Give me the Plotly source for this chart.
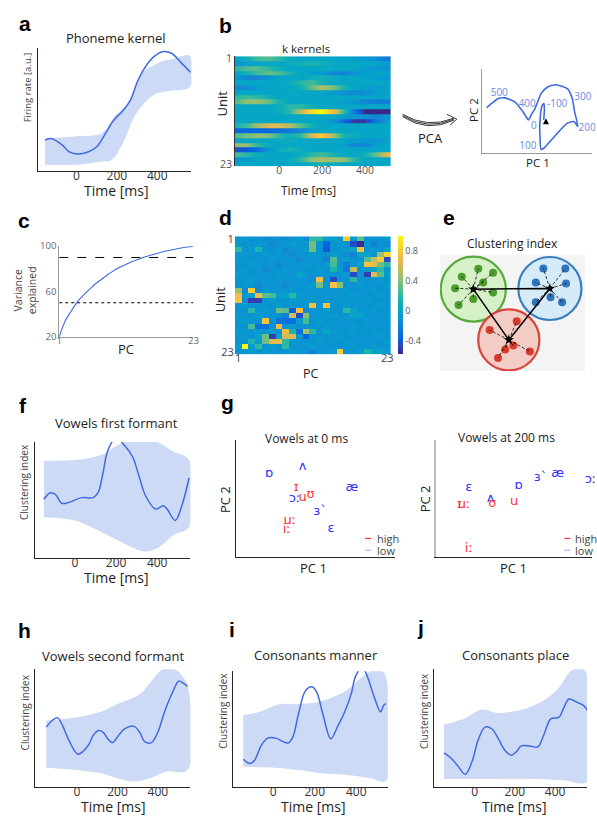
import plotly.graph_objects as go

W, H = 597, 823
BLUE = '#4169e1'
BAND = '#ccdaf5'
AXC = '#262626'

# ---------------- data ----------------
# a: phoneme kernel
a_t = [-156, -128, -70, -38, 3, 60, 100, 143, 183, 225, 265, 306, 348, 388, 430, 470, 520, 564]
a_v = [0.95, 1.00, 0.80, 0.60, 0.53, 0.60, 0.75, 1.15, 1.55, 1.82, 2.15, 2.80, 3.25, 3.52, 3.65, 3.60, 3.30, 3.02]
a_up_t = [-156, 0, 126, 192, 257, 323, 372, 421, 487, 561]
a_up_v = [1.00, 1.07, 1.17, 1.70, 2.10, 3.00, 3.20, 3.35, 3.45, 3.52]
a_lo_t = [-156, 0, 126, 175, 225, 290, 339, 389, 454, 561]
a_lo_v = [0.20, 0.20, 0.30, 0.35, 0.80, 1.70, 2.10, 2.35, 2.45, 2.58]

# b: k kernels (units x time), colour fraction
b_t = [-200, -150, -100, -50, 0, 50, 100, 150, 200, 250, 300, 350, 400, 450, 500]
b_units = list(range(1, 24))
b_z = [
    [0.45, 0.50, 0.58, 0.60, 0.55, 0.48, 0.45, 0.45, 0.45, 0.45, 0.45, 0.42, 0.40, 0.38, 0.30],
    [0.40, 0.42, 0.45, 0.45, 0.45, 0.48, 0.50, 0.52, 0.50, 0.46, 0.45, 0.45, 0.45, 0.44, 0.42],
    [0.55, 0.60, 0.60, 0.55, 0.50, 0.45, 0.45, 0.45, 0.47, 0.47, 0.45, 0.45, 0.42, 0.40, 0.38],
    [0.45, 0.50, 0.58, 0.62, 0.60, 0.52, 0.45, 0.42, 0.40, 0.35, 0.33, 0.38, 0.42, 0.45, 0.45],
    [0.40, 0.35, 0.35, 0.40, 0.45, 0.45, 0.45, 0.48, 0.50, 0.48, 0.45, 0.45, 0.45, 0.42, 0.40],
    [0.45, 0.45, 0.45, 0.45, 0.45, 0.48, 0.55, 0.58, 0.50, 0.45, 0.45, 0.45, 0.45, 0.45, 0.45],
    [0.35, 0.38, 0.42, 0.45, 0.45, 0.45, 0.50, 0.62, 0.72, 0.65, 0.52, 0.45, 0.42, 0.42, 0.42],
    [0.45, 0.45, 0.45, 0.45, 0.45, 0.45, 0.45, 0.45, 0.45, 0.42, 0.38, 0.35, 0.38, 0.42, 0.45],
    [0.55, 0.58, 0.55, 0.50, 0.45, 0.45, 0.45, 0.45, 0.45, 0.45, 0.45, 0.45, 0.45, 0.45, 0.45],
    [0.60, 0.68, 0.68, 0.62, 0.52, 0.45, 0.45, 0.45, 0.45, 0.45, 0.42, 0.40, 0.35, 0.32, 0.32],
    [0.45, 0.45, 0.45, 0.45, 0.48, 0.55, 0.55, 0.50, 0.45, 0.45, 0.45, 0.45, 0.45, 0.45, 0.45],
    [0.45, 0.45, 0.45, 0.45, 0.48, 0.55, 0.75, 0.95, 1.00, 0.85, 0.55, 0.30, 0.12, 0.05, 0.05],
    [0.45, 0.45, 0.45, 0.45, 0.45, 0.45, 0.45, 0.45, 0.45, 0.45, 0.42, 0.40, 0.38, 0.35, 0.40],
    [0.45, 0.45, 0.45, 0.45, 0.45, 0.45, 0.45, 0.45, 0.45, 0.40, 0.25, 0.15, 0.15, 0.30, 0.42],
    [0.52, 0.58, 0.72, 0.80, 0.80, 0.72, 0.60, 0.50, 0.45, 0.45, 0.45, 0.45, 0.45, 0.45, 0.45],
    [0.25, 0.25, 0.25, 0.25, 0.28, 0.30, 0.35, 0.42, 0.45, 0.45, 0.45, 0.45, 0.45, 0.45, 0.45],
    [0.60, 0.65, 0.68, 0.65, 0.55, 0.50, 0.55, 0.80, 0.90, 0.70, 0.52, 0.48, 0.45, 0.45, 0.45],
    [0.45, 0.45, 0.45, 0.45, 0.48, 0.48, 0.45, 0.45, 0.45, 0.45, 0.45, 0.42, 0.40, 0.40, 0.42],
    [0.70, 0.68, 0.55, 0.48, 0.45, 0.45, 0.45, 0.45, 0.45, 0.45, 0.42, 0.35, 0.35, 0.42, 0.45],
    [0.20, 0.22, 0.28, 0.40, 0.48, 0.52, 0.48, 0.45, 0.45, 0.45, 0.45, 0.45, 0.45, 0.45, 0.45],
    [0.58, 0.55, 0.48, 0.45, 0.45, 0.45, 0.48, 0.55, 0.58, 0.52, 0.45, 0.45, 0.50, 0.62, 0.82],
    [0.38, 0.42, 0.45, 0.45, 0.45, 0.48, 0.55, 0.68, 0.72, 0.70, 0.68, 0.55, 0.45, 0.45, 0.45],
    [0.45, 0.45, 0.45, 0.45, 0.45, 0.45, 0.45, 0.48, 0.50, 0.48, 0.45, 0.45, 0.45, 0.45, 0.45],
]

# PCA trajectory
pca_pc1 = [1.86, 1.88, 1.87, 1.82, 1.78, 1.76, 1.74, 1.75, 1.78, 1.88, 2.08, 2.33, 2.58, 2.78, 2.90, 2.80,
           2.73, 2.58, 2.23, 1.98, 1.78, 1.68, 1.60, 1.48, 1.40, 1.23, 0.98, 0.68, 0.48, 0.28, 0.13]
pca_pc2 = [1.00, 1.25, 1.50, 1.45, 1.30, 1.10, 0.80, 0.45, 0.10, 0.15, 0.37, 0.65, 0.90, 0.95, 0.80, 1.25,
           1.65, 1.95, 2.07, 2.00, 1.80, 1.55, 1.35, 1.15, 1.00, 1.25, 1.55, 1.67, 1.65, 1.50, 1.37]
pca_lbl = ['500', '400', '-100', '300', '0', '200', '100']
pca_lx = [0.51, 1.36, 2.27, 3.05, 1.56, 3.18, 1.38]
pca_ly = [1.80, 1.47, 1.48, 1.67, 0.80, 0.73, 0.20]

# c: variance explained
c_pc = list(range(1, 24))
c_var = [20, 34, 43, 51, 57, 62, 67, 71, 75, 78.5, 81.5, 84, 86.5, 88.5, 90.5, 92, 93.5, 95, 96.2, 97.3, 98.3, 99.2, 100]
c_thr_dash = 90
c_thr_dot = 50

# d: PC loadings (unit x PC)
d_z = [
    [-0.1, -0.05, -0.1, -0.1, -0.15, -0.1, -0.1, -0.15, -0.1, -0.05, -0.15, 0.2, 0.2, 0.0, -0.05, -0.1, 0.8, -0.05, 0.3, -0.1, -0.1, -0.1, -0.05],
    [-0.05, -0.1, -0.1, -0.05, -0.1, -0.15, -0.1, -0.1, -0.05, -0.1, -0.1, 0.35, -0.1, -0.35, -0.1, -0.05, -0.1, -0.45, -0.55, -0.1, -0.2, -0.1, -0.15],
    [0.2, -0.1, -0.05, 0.15, -0.1, -0.1, -0.05, -0.15, -0.1, -0.1, -0.05, 0.35, -0.1, -0.4, -0.1, -0.1, -0.05, 0.0, 0.75, -0.1, -0.05, -0.1, 0.0],
    [-0.1, -0.05, -0.1, -0.1, -0.05, -0.1, -0.1, -0.1, -0.15, -0.1, -0.1, -0.05, -0.1, -0.1, -0.05, -0.1, -0.15, -0.2, 0.0, 0.0, -0.1, 0.45, 0.85],
    [-0.05, -0.1, -0.1, -0.1, -0.1, -0.05, -0.1, -0.1, -0.1, -0.15, -0.1, -0.1, -0.1, -0.2, 0.3, -0.1, -0.05, -0.1, -0.1, 0.3, 0.55, 0.8, -0.45],
    [-0.1, -0.1, -0.05, -0.1, -0.1, -0.1, -0.15, -0.1, -0.1, -0.1, -0.05, -0.1, -0.1, -0.05, 0.25, -0.1, -0.2, -0.1, 0.0, 0.75, 0.65, 0.35, 0.2],
    [-0.1, -0.05, -0.1, -0.1, -0.15, -0.1, -0.1, -0.05, -0.1, -0.1, -0.1, -0.1, -0.05, -0.1, 0.15, -0.05, -0.25, 0.55, -0.1, -0.05, 0.0, 0.2, -0.1],
    [-0.05, -0.1, -0.1, -0.1, -0.1, -0.1, -0.05, -0.1, -0.1, 0.0, -0.1, -0.1, -0.1, -0.1, -0.1, -0.1, -0.05, -0.45, -0.1, -0.5, 0.65, 0.3, -0.05],
    [-0.1, -0.1, -0.05, -0.1, -0.1, -0.1, -0.1, -0.1, -0.1, -0.1, -0.1, -0.15, 0.75, -0.1, -0.45, -0.1, -0.1, 0.2, -0.1, -0.1, -0.1, -0.05, -0.1],
    [-0.1, -0.05, -0.1, -0.15, -0.1, -0.1, -0.1, -0.15, -0.1, -0.1, -0.1, -0.05, 0.35, -0.1, 0.75, 0.4, -0.1, -0.1, -0.05, -0.1, -0.1, -0.1, -0.05],
    [0.45, -0.15, 0.8, -0.15, -0.05, -0.1, -0.1, -0.1, -0.05, -0.1, -0.1, -0.1, -0.1, -0.1, -0.1, -0.1, -0.05, -0.1, -0.1, -0.1, -0.05, -0.1, -0.1],
    [0.7, -0.1, 0.0, 0.7, 0.3, 0.25, -0.05, 0.0, 0.2, -0.05, -0.1, -0.05, -0.1, -0.1, -0.1, -0.1, -0.1, -0.05, -0.1, -0.1, -0.1, -0.05, -0.1],
    [0.75, -0.15, -0.5, -0.5, -0.1, -0.05, -0.1, -0.1, -0.05, -0.1, -0.05, -0.1, -0.1, -0.1, -0.1, -0.05, -0.1, -0.1, -0.1, -0.05, -0.1, -0.1, -0.1],
    [-0.1, -0.05, -0.1, -0.1, -0.1, -0.1, -0.05, -0.1, -0.1, -0.1, -0.05, 0.75, -0.1, 0.75, -0.1, -0.1, -0.05, -0.1, -0.1, -0.1, -0.1, -0.05, -0.1],
    [-0.1, -0.1, 0.2, -0.1, -0.05, -0.1, 0.35, 0.3, -0.4, 0.75, -0.15, -0.1, -0.1, -0.05, -0.1, -0.1, 0.2, 0.0, -0.1, -0.1, -0.05, -0.1, -0.1],
    [-0.05, -0.1, -0.1, -0.05, -0.1, -0.1, -0.1, -0.2, 0.6, -0.45, 0.4, -0.1, -0.1, -0.1, -0.05, -0.1, -0.1, 0.0, 0.0, -0.1, -0.1, -0.1, -0.05],
    [-0.1, -0.05, -0.1, -0.1, 0.75, -0.1, -0.3, -0.3, -0.3, -0.05, 0.25, -0.1, -0.05, -0.1, -0.1, -0.1, -0.1, -0.1, -0.1, -0.05, -0.1, -0.1, -0.1],
    [-0.1, -0.1, 0.25, -0.3, -0.3, -0.1, 0.7, -0.1, -0.05, -0.1, -0.1, -0.1, -0.1, -0.05, -0.1, -0.1, -0.1, -0.05, -0.1, -0.1, -0.1, -0.1, -0.1],
    [-0.05, -0.1, -0.1, -0.05, -0.1, -0.05, -0.1, 0.7, 0.15, -0.3, 0.5, 0.2, -0.1, 0.0, -0.05, -0.1, -0.1, -0.05, -0.1, -0.1, -0.05, -0.1, -0.1],
    [-0.1, -0.05, -0.1, 0.0, 0.35, -0.5, 0.0, 0.6, 0.65, -0.1, -0.35, -0.1, -0.1, -0.1, -0.1, -0.05, -0.1, -0.1, -0.1, -0.1, -0.1, -0.05, -0.1],
    [-0.1, -0.1, 0.15, -0.05, 0.35, 0.65, 0.7, 0.2, -0.05, -0.1, -0.1, -0.1, -0.05, -0.1, -0.1, -0.1, -0.05, -0.1, -0.1, -0.1, -0.1, -0.1, -0.05],
    [-0.05, 1.0, -0.05, 0.2, -0.1, -0.05, -0.1, 0.2, -0.1, -0.1, -0.1, -0.05, -0.1, -0.1, -0.1, -0.1, -0.1, -0.05, -0.1, -0.1, -0.05, -0.1, -0.1],
    [-0.1, -0.1, -0.05, -0.1, -0.05, -0.1, -0.1, -0.1, -0.05, -0.1, -0.1, -0.2, -0.1, -0.1, -0.05, 0.8, -0.1, -0.1, -0.05, 0.15, 0.0, 0.0, -0.05],
]
d_ticks = [-0.4, 0, 0.4, 0.8]

# e: clustering illustration
e_centers_x = [33.7, 111.3, 69.7]
e_centers_y = [83.3, 84.0, 31.7]
e_radius = [33, 32, 31]
e_green_x = [22, 38.7, 53.7, 43.7, 15.3, 53.7, 33.7, 18.7]
e_green_y = [96, 104, 100, 90, 84.3, 80, 73.3, 67.3]
e_blue_x = [104.7, 127, 97, 127.7, 97, 112, 123.7]
e_blue_y = [104.3, 104.3, 90, 89, 70, 75, 70]
e_red_x = [77.7, 50.3, 74.3, 91, 58.7, 66]
e_red_y = [50.7, 41.7, 26, 20, 13.3, 22]

# f: vowels first formant
f_t = [-152, -120, -96, -64, -32, 32, 88, 112, 136, 160, 200, 240, 280, 312, 344, 392, 429, 448, 488, 520, 555]
f_v = [1.80, 2.00, 1.95, 1.68, 1.70, 1.85, 1.85, 2.00, 2.60, 3.30, 3.68, 3.45, 3.10, 2.50, 1.90, 1.50, 1.60, 1.50, 1.15, 1.60, 2.45]
f_up_t = [-152, 0, 128, 208, 288, 352, 400, 480, 555]
f_up_v = [2.98, 3.00, 3.15, 3.45, 3.62, 3.65, 3.55, 3.25, 3.00]
f_lo_t = [-152, 0, 96, 176, 272, 336, 400, 480, 555]
f_lo_v = [1.25, 1.15, 0.90, 0.65, 0.35, 0.20, 0.30, 0.70, 0.95]

# g: vowels in PC space
gL_sym = ['ɒ', 'ʌ', 'ɪ', 'ɔː', 'u', 'ʊ', 'æ', 'ɜ`', 'uː', 'iː', 'ɛ']
gL_grp = ['low', 'low', 'high', 'low', 'high', 'high', 'low', 'low', 'high', 'high', 'low']
gL_pc1 = [0.21, 0.42, 0.38, 0.37, 0.42, 0.47, 0.73, 0.53, 0.34, 0.32, 0.60]
gL_pc2 = [0.71, 0.77, 0.59, 0.50, 0.51, 0.53, 0.59, 0.39, 0.31, 0.23, 0.24]
gR_sym = ['ɛ', 'ɪ', 'uː', 'ʌ', 'ʊ', 'u', 'ɒ', 'ɜ`', 'æ', 'ɔː', 'iː']
gR_grp = ['low', 'high', 'high', 'low', 'high', 'high', 'low', 'low', 'low', 'low', 'high']
gR_pc1 = [0.21, 0.15, 0.18, 0.35, 0.36, 0.50, 0.53, 0.67, 0.78, 0.99, 0.21]
gR_pc2 = [0.59, 0.45, 0.45, 0.50, 0.46, 0.47, 0.61, 0.68, 0.71, 0.66, 0.07]

# h: vowels second formant
h_t = [-152, -123, -96, -72, -40, 5, 56, 80, 104, 128, 152, 176, 200, 232, 280, 309, 336, 368, 400, 432, 472, 504, 525, 547]
h_v = [1.83, 2.03, 2.11, 1.88, 1.43, 1.01, 1.28, 1.58, 1.72, 1.68, 1.48, 1.36, 1.53, 1.76, 1.86, 1.68, 1.38, 1.36, 1.68, 2.28, 2.88, 3.23, 3.16, 3.06]
h_up_t = [-152, 0, 120, 200, 312, 376, 424, 488, 520, 547]
h_up_v = [2.03, 2.13, 2.30, 2.53, 2.83, 3.28, 3.58, 3.56, 3.38, 3.08]
h_lo_t = [-152, 0, 120, 200, 280, 360, 440, 547]
h_lo_v = [0.60, 0.53, 0.43, 0.28, 0.18, 0.28, 0.48, 0.53]

# i: consonants manner
i_t = [-145, -113, -90, -58, -27, 13, 44, 72, 94, 123, 154, 186, 209, 241, 277, 312, 343, 375, 398, 430, 453, 485, 517, 532, 543]
i_v = [0.86, 0.73, 0.83, 1.28, 1.50, 1.50, 1.40, 1.35, 1.53, 2.28, 2.93, 3.06, 2.90, 2.18, 1.48, 1.88, 2.28, 2.83, 3.40, 3.65, 3.38, 2.78, 2.30, 2.50, 2.55]
i_up_t = [-145, -66, 28, 107, 202, 280, 359, 422, 485, 524, 543]
i_up_v = [2.20, 2.30, 2.53, 2.53, 2.58, 2.73, 2.98, 3.33, 3.58, 3.53, 3.36]
i_lo_t = [-145, 13, 123, 233, 359, 469, 543]
i_lo_v = [0.63, 0.60, 0.53, 0.43, 0.38, 0.28, 0.20]

# j: consonants place
j_t = [-152, -119, -87, -46, -13, 20, 52, 85, 118, 150, 183, 207, 232, 273, 314, 346, 379, 420, 444, 469, 510, 542, 562]
j_v = [1.05, 0.90, 0.68, 0.40, 0.78, 1.48, 1.83, 1.78, 1.48, 1.13, 0.98, 1.08, 1.26, 1.26, 1.23, 1.63, 2.08, 2.13, 2.43, 2.68, 2.58, 2.48, 2.33]
j_up_t = [-152, -54, 36, 109, 191, 273, 354, 420, 469, 510, 542, 562]
j_up_v = [1.90, 2.08, 2.36, 2.26, 2.30, 2.43, 2.68, 3.03, 3.48, 3.63, 3.58, 3.33]
j_lo_t = [-152, 109, 273, 436, 562]
j_lo_v = [0.26, 0.26, 0.26, 0.23, 0.18]

time_ticks = [0, 200, 400]

# parula colormap samples
PARULA = [
    (0, (0.2081, 0.1663, 0.5292)), (4, (0.1959, 0.2645, 0.7279)), (8, (0.0117, 0.3875, 0.8820)),
    (12, (0.0498, 0.4586, 0.8641)), (16, (0.0793, 0.5200, 0.8312)), (20, (0.0343, 0.5966, 0.8199)),
    (24, (0.0228, 0.6535, 0.7768)), (28, (0.0843, 0.6928, 0.7062)), (32, (0.2178, 0.7250, 0.6193)),
    (36, (0.3953, 0.7459, 0.5244)), (40, (0.5709, 0.7485, 0.4494)), (44, (0.7184, 0.7411, 0.3905)),
    (48, (0.8507, 0.7299, 0.3360)), (52, (0.9739, 0.7314, 0.2666)), (56, (0.9880, 0.8066, 0.1794)),
    (60, (0.9589, 0.8949, 0.1132)), (63, (0.9763, 0.9831, 0.0538)),
]
parula = [[i / 63, 'rgb(%d,%d,%d)' % tuple(round(c * 255) for c in rgb)] for i, rgb in PARULA]

# ---------------- figure ----------------
fig = go.Figure()
layout = dict(width=W, height=H, margin=dict(l=0, r=0, t=0, b=0), paper_bgcolor='white',
              plot_bgcolor='rgba(0,0,0,0)', showlegend=False, font=dict(family='Open Sans', color='#222'))
annotations = []
shapes = []


def X(p):
    return p / W


def Y(p):
    return 1 - p / H


def add_axes(n, xpx, ypx, xr, yr, xkw=None, ykw=None):
    s = '' if n == 1 else str(n)
    base = dict(showgrid=False, zeroline=False, showline=False, ticks='', showticklabels=False, fixedrange=True)
    xa = dict(base, domain=[X(xpx[0]), X(xpx[1])], range=xr, anchor='y' + s)
    ya = dict(base, domain=[Y(ypx[1]), Y(ypx[0])], range=yr, anchor='x' + s)
    if xkw:
        xa.update(xkw)
    if ykw:
        ya.update(ykw)
    layout['xaxis' + s] = xa
    layout['yaxis' + s] = ya
    return 'x' + s, 'y' + s


def ann(text, x, y, size=12, color='#222', angle=0, family='Open Sans', xanchor='center', yanchor='middle'):
    annotations.append(dict(text=text, x=X(x), y=Y(y), xref='paper', yref='paper', showarrow=False,
                            font=dict(size=size, color=color, family=family), textangle=angle,
                            xanchor=xanchor, yanchor=yanchor))


def letter(t, x, y):
    ann('<b>%s</b>' % t, x, y, size=21, color='black', family='Liberation Sans')


def line_panel(n, xpx, ypx, xr, yr, t, v, ut, uv, lt, lv):
    xa, ya = add_axes(n, xpx, ypx, xr, yr,
                      xkw=dict(showline=True, linecolor=AXC, linewidth=1, showticklabels=True,
                               tickvals=time_ticks, tickfont=dict(size=12, color='#333'), ticklabelstandoff=-7),
                      ykw=dict(showline=True, linecolor=AXC, linewidth=1))
    fig.add_trace(go.Scatter(x=ut + lt[::-1], y=uv + lv[::-1], fill='toself', fillcolor=BAND,
                             mode='lines', line=dict(width=0, shape='spline', color=BAND),
                             xaxis=xa, yaxis=ya, hoverinfo='skip', cliponaxis=False))
    fig.add_trace(go.Scatter(x=t, y=v, mode='lines', line=dict(color=BLUE, width=1.5, shape='spline'),
                             xaxis=xa, yaxis=ya, cliponaxis=False))


# a
line_panel(1, (35, 191), (42, 167), [-193, 569], [0, 3.75], a_t, a_v, a_up_t, a_up_v, a_lo_t, a_lo_v)
letter('a', 22, 17)
ann('Phoneme kernel', 115, 32, size=13)
ann('Time [ms]', 115, 186, size=14)
ann('Firing rate [a.u.]', 25, 82, size=9.5, color='#444', angle=-90)

# b
xa, ya = add_axes(2, (235, 393), (50, 162), [-207, 520], [23.5, 0.5],
                  xkw=dict(showticklabels=True, tickvals=time_ticks, tickfont=dict(size=10.5, color='#555'),
                           ticklabelstandoff=-4),
                  ykw=dict(showticklabels=True, tickvals=[1, 23], tickfont=dict(size=10.5, color='#555'),
                           showline=True, linecolor='#333', linewidth=0.6))
b_y, b_rows = [], []
for u, row in zip(b_units, b_z):
    b_y += [u - 0.45, u + 0.45]
    b_rows += [row, row]
fig.add_trace(go.Heatmap(x=b_t, y=b_y, z=b_rows, colorscale=parula, zmin=0.12, zmax=1.0,
                         zsmooth='best', showscale=False, xaxis=xa, yaxis=ya, hoverinfo='skip'))
letter('b', 226, 19)
ann('k kernels', 307, 42, size=11.5)
ann('Time [ms]', 310, 186, size=12)
ann('Unit', 222, 98, size=13, angle=-90)

# PCA trajectory
xa, ya = add_axes(3, (486, 597), (63, 148), [0, 3.33], [0, 2.55],
                  xkw=dict(showline=True, linecolor='#999', linewidth=1),
                  ykw=dict(showline=True, linecolor='#999', linewidth=1))
fig.add_trace(go.Scatter(x=pca_pc1, y=pca_pc2, mode='lines', line=dict(color=BLUE, width=1.6, shape='spline', smoothing=0.6),
                         xaxis=xa, yaxis=ya, cliponaxis=False))
fig.add_trace(go.Scatter(x=pca_lx, y=pca_ly, mode='text', text=pca_lbl,
                         textfont=dict(size=10, color='#6b8be3', family='Open Sans'),
                         xaxis=xa, yaxis=ya, cliponaxis=False))
fig.add_trace(go.Scatter(x=[pca_pc1[0] + 0.07], y=[pca_pc2[0] + 0.05], mode='markers',
                         marker=dict(symbol='arrow-up', size=6, color='black'), xaxis=xa, yaxis=ya))
ann('PC 2', 477, 105, size=11.5, angle=-90)
ann('PC 1', 542, 158, size=11.5)
ann('PCA', 433, 133, size=13)


def path(pts_cmd):
    out = []
    for tok in pts_cmd:
        if isinstance(tok, str):
            out.append(tok)
        else:
            out.append('%.5f,%.5f' % (X(tok[0]), Y(tok[1])))
    return ' '.join(out)


for off in (0, 2, 4):
    shapes.append(dict(type='path', xref='paper', yref='paper', layer='above',
                       path=path(['M', (405, 109 + off * 0.6), 'Q', (430, 124 + off), (457, 113 + off * 0.5)]),
                       line=dict(color='#222', width=0.9)))
shapes.append(dict(type='path', xref='paper', yref='paper', layer='above',
                   path=path(['M', (450, 109), 'L', (460, 114), 'L', (453, 120)]),
                   line=dict(color='#222', width=0.9)))

# c
xa, ya = add_axes(4, (57, 193), (243, 335), [1, 23], [20, 100],
                  xkw=dict(showline=True, linecolor='#999', linewidth=1, showticklabels=True, tickvals=[1, 23],
                           tickfont=dict(size=9.5, color='#666'), ticklabelstandoff=-5),
                  ykw=dict(showline=True, linecolor='#999', linewidth=1, showticklabels=True, tickvals=[20, 60, 100],
                           tickfont=dict(size=9.5, color='#666')))
fig.add_trace(go.Scatter(x=c_pc, y=c_var, mode='lines', line=dict(color=BLUE, width=1.1, shape='spline'),
                         xaxis=xa, yaxis=ya))
fig.add_trace(go.Scatter(x=[c_pc[0], c_pc[-1]], y=[c_thr_dash, c_thr_dash], mode='lines',
                         line=dict(color='black', width=1, dash='dash'), xaxis=xa, yaxis=ya))
fig.add_trace(go.Scatter(x=[c_pc[0], c_pc[-1]], y=[c_thr_dot, c_thr_dot], mode='lines',
                         line=dict(color='black', width=1, dash='dot'), xaxis=xa, yaxis=ya))
letter('c', 21, 217)
ann('Variance<br>explained', 23, 288, size=10.5, color='#444', angle=-90)
ann('PC', 125, 347, size=13)

# d
xa, ya = add_axes(5, (235, 393), (233, 353), [0.5, 23.5], [23.5, 0.5],
                  xkw=dict(showticklabels=True, tickvals=[1, 23], tickfont=dict(size=11, color='#444'),
                           ticklabelstandoff=-4),
                  ykw=dict(showticklabels=True, tickvals=[1, 23], tickfont=dict(size=11, color='#444')))
fig.add_trace(go.Heatmap(x=c_pc, y=b_units, z=d_z, colorscale=parula, zmin=-0.58, zmax=1.0,
                         xaxis=xa, yaxis=ya, hoverinfo='skip',
                         colorbar=dict(x=X(400), xanchor='left', y=Y(293), yanchor='middle', len=120 / H,
                                       lenmode='fraction', thickness=5, thicknessmode='pixels', xpad=0, ypad=0,
                                       outlinewidth=0, tickvals=d_ticks, ticktext=['-0.4', '0', '0.4', '0.8'],
                                       ticks='', tickfont=dict(size=9, color='#555'))))
letter('d', 226, 214)
ann('Unit', 220, 297, size=13, angle=-90)
ann('PC', 312, 372, size=12.5)

# e
xa, ya = add_axes(6, (443, 590), (252, 370), [0, 147], [0, 118])
shapes.append(dict(type='rect', xref='x6', yref='y6', x0=0, x1=147, y0=0, y1=118, layer='below',
                   fillcolor='#f4f4f4', line=dict(width=0)))
e_fill = ['#d6f0c8', '#d5ecf8', '#f2cdc6']
e_edge = ['#55aa3a', '#3a7ec2', '#d8453a']
e_dot = ['#4c9c2c', '#2f74bd', '#d63d2c']
for k in range(3):
    shapes.append(dict(type='circle', xref='x6', yref='y6', layer='below',
                       x0=e_centers_x[k] - e_radius[k], x1=e_centers_x[k] + e_radius[k],
                       y0=e_centers_y[k] - e_radius[k], y1=e_centers_y[k] + e_radius[k],
                       fillcolor=e_fill[k], line=dict(color=e_edge[k], width=2.2)))
for k, (dxs, dys) in enumerate([(e_green_x, e_green_y), (e_blue_x, e_blue_y), (e_red_x, e_red_y)]):
    fig.add_trace(go.Scatter(x=dxs, y=dys, mode='markers', marker=dict(size=8, color=e_dot[k]),
                             xaxis=xa, yaxis=ya))
for k, (dxs, dys) in enumerate([(e_green_x, e_green_y), (e_blue_x, e_blue_y), (e_red_x, e_red_y)]):
    lx, ly = [], []
    for px_, py_ in zip(dxs, dys):
        lx += [e_centers_x[k], px_, None]
        ly += [e_centers_y[k], py_, None]
    fig.add_trace(go.Scatter(x=lx, y=ly, mode='lines', line=dict(color='black', width=0.8, dash='3px,2px'),
                             xaxis=xa, yaxis=ya))
fig.add_trace(go.Scatter(x=[e_centers_x[0], e_centers_x[1], e_centers_x[2], e_centers_x[0]],
                         y=[e_centers_y[0], e_centers_y[1], e_centers_y[2], e_centers_y[0]],
                         mode='lines', line=dict(color='black', width=1.5), xaxis=xa, yaxis=ya))
fig.add_trace(go.Scatter(x=e_centers_x, y=e_centers_y, mode='markers',
                         marker=dict(symbol='star', size=8, color='black'), xaxis=xa, yaxis=ya))
letter('e', 452, 214)
ann('Clustering index', 516, 240, size=12)

# f
line_panel(7, (32, 190), (442, 560), [-197, 562], [0, 3.55], f_t, f_v, f_up_t, f_up_v, f_lo_t, f_lo_v)
letter('f', 20, 405)
ann('Vowels first formant', 115, 423, size=13)
ann('Time [ms]', 115, 580, size=14)
ann('Clustering index', 22, 483, size=10, color='#444', angle=-90)

# g left / right
COL = {'high': '#ff3030', 'low': '#3030ff'}
for n, xpx, sym, grp, p1, p2, ycol, ywid in [
        (8, (236, 397), gL_sym, gL_grp, gL_pc1, gL_pc2, AXC, 1),
        (9, (439, 597), gR_sym, gR_grp, gR_pc1, gR_pc2, '#bbbbbb', 2)]:
    xa, ya = add_axes(n, xpx, (440, 559), [0, 1], [0, 1],
                      xkw=dict(showline=True, linecolor=AXC, linewidth=1),
                      ykw=dict(showline=True, linecolor=ycol, linewidth=ywid))
    fig.add_trace(go.Scatter(x=p1, y=p2, mode='text', text=sym,
                             textfont=dict(size=13, color=[COL[g] for g in grp], family='DejaVu Sans'),
                             xaxis=xa, yaxis=ya, cliponaxis=False))
letter('g', 228, 402)
ann('Vowels at 0 ms', 308, 438, size=12)
ann('Vowels at 200 ms', 510, 437, size=12)
ann('PC 2', 225, 500, size=13, angle=-90)
ann('PC 1', 315, 570, size=13)
ann('PC 2', 428, 500, size=13, angle=-90)
ann('PC 1', 517, 570, size=13)
for lx0, tx in [(367, 377), (569, 578)]:
    shapes.append(dict(type='line', xref='paper', yref='paper', x0=X(lx0), x1=X(lx0 + 6), y0=Y(540), y1=Y(540),
                       line=dict(color='#ff3030', width=1.2)))
    shapes.append(dict(type='line', xref='paper', yref='paper', x0=X(lx0), x1=X(lx0 + 6), y0=Y(552), y1=Y(552),
                       line=dict(color='#aab2f2', width=1.2)))
    ann('high', tx, 540, size=11, color='#444', xanchor='left')
    ann('low', tx, 552, size=11, color='#444', xanchor='left')

# h
line_panel(10, (32, 190), (673, 793), [-210, 561], [0, 3.58], h_t, h_v, h_up_t, h_up_v, h_lo_t, h_lo_v)
letter('h', 22, 633)
ann('Vowels second formant', 112, 659, size=13)
ann('Time [ms]', 112, 812, size=14)
ann('Clustering index', 22, 717, size=10, color='#444', angle=-90)

# i
line_panel(11, (233, 390), (675, 793), [-195, 552], [0, 3.53], i_t, i_v, i_up_t, i_up_v, i_lo_t, i_lo_v)
letter('i', 232, 632)
ann('Consonants manner', 317, 658, size=13)
ann('Time [ms]', 315, 812, size=14)
ann('Clustering index', 223, 715, size=10, color='#444', angle=-90)

# j
line_panel(12, (437, 592), (673, 793), [-201, 559], [0, 3.58], j_t, j_v, j_up_t, j_up_v, j_lo_t, j_lo_v)
letter('j', 423, 630)
ann('Consonants place', 519, 658, size=13)
ann('Time [ms]', 518, 812, size=14)
ann('Clustering index', 426, 715, size=10, color='#444', angle=-90)

layout['annotations'] = annotations
layout['shapes'] = shapes
fig.update_layout(**layout)
fig.write_html('out.html')
